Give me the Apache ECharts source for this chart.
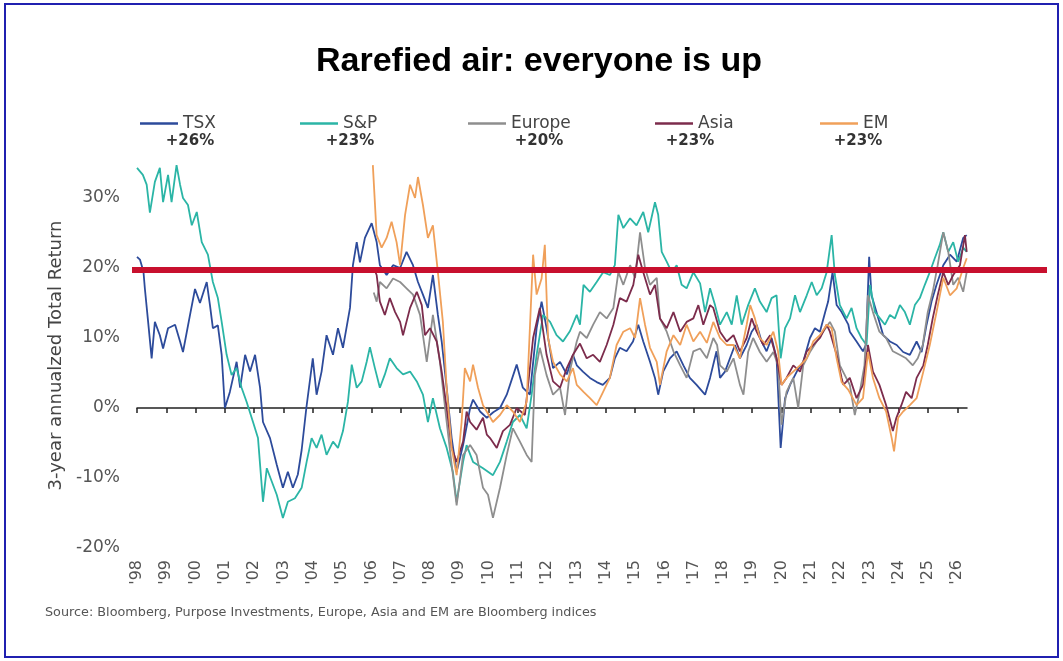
<!DOCTYPE html>
<html>
<head>
<meta charset="utf-8">
<script src="https://cdn.jsdelivr.net/npm/echarts@6/dist/echarts.min.js"></script>
<style>
  html, body { margin: 0; padding: 0; background: #fff; }
  #chart { width: 1063px; height: 661px; }
</style>
</head>
<body>
<div id="chart"></div>
<script>
// tick labels
var tickYears = [1998, 1999, 2000, 2001, 2002, 2003, 2004, 2005, 2006, 2007, 2008, 2009, 2010, 2011,
    2012, 2013, 2014, 2015, 2016, 2017, 2018, 2019, 2020, 2021, 2022, 2023, 2024, 2025, 2026];
var tickLabels = ["'98", "'99", "'00", "'01", "'02", "'03", "'04", "'05", "'06", "'07", "'08", "'09", "'10", "'11",
    "'12", "'13", "'14", "'15", "'16", "'17", "'18", "'19", "'20", "'21", "'22", "'23", "'24", "'25", "'26"];

var seriesNames = ['TSX', 'S&P', 'Europe', 'Asia', 'EM'];
var latestLabels = ['+26%', '+23%', '+20%', '+23%', '+23%'];
var THRESHOLD = 19.7;

// [year, 3y annualized return %]
var tsx = [[1998.00,21.6],[1998.10,21.2],[1998.22,19.5],[1998.27,17],[1998.38,12.3],[1998.50,7.1],[1998.61,12.3],[1998.78,10.4],
    [1998.89,8.5],[1999.06,11.4],[1999.30,11.9],[1999.47,9.5],[1999.57,8],[1999.81,13.3],[1999.98,17],[2000.15,15],[2000.38,18],
    [2000.49,14.7],[2000.59,11.4],[2000.76,11.8],[2000.89,7.6],[2001.00,0],[2001.17,2.3],[2001.40,6.6],[2001.52,2.9],[2001.69,7.6],
    [2001.86,5.2],[2002.03,7.6],[2002.20,2.9],[2002.30,-2],[2002.54,-4.3],[2002.77,-8.1],[2002.98,-11.4],[2003.15,-9.1],[2003.32,-11.4],
    [2003.49,-9.5],[2003.62,-6],[2003.78,0],[2004.00,7.1],[2004.13,1.9],[2004.30,5.2],[2004.47,10.4],[2004.69,7.6],[2004.86,11.4],
    [2005.03,8.6],[2005.27,14.3],[2005.37,20.4],[2005.50,23.7],[2005.61,20.8],[2005.78,24.3],[2006.01,26.4],[2006.18,23.7],[2006.29,20.4],
    [2006.52,19],[2006.74,20.4],[2006.98,20],[2007.20,22.3],[2007.42,20.4],[2007.59,18],[2007.76,16.2],[2007.93,14.3],[2008.10,19],
    [2008.27,13.3],[2008.40,9.5],[2008.57,2.9],[2008.74,-4.3],[2008.91,-9.1],[2009.13,-5.3],[2009.37,0],[2009.47,1.2],[2009.71,-0.5],
    [2009.94,-1.4],[2010.16,-0.6],[2010.39,0],[2010.62,1.9],[2010.96,6.2],[2011.17,2.9],[2011.41,1.9],[2011.64,11.4],[2011.81,15.2],
    [2011.98,11.4],[2012.20,5.7],[2012.44,6.6],[2012.67,4.8],[2012.88,7.6],[2013.01,6.1],[2013.22,5.2],[2013.46,4.3],[2013.69,3.7],
    [2013.90,3.3],[2014.14,4.3],[2014.31,7.1],[2014.48,8.6],[2014.71,8.1],[2014.93,9.5],[2015.11,11.9],[2015.28,9.5],[2015.51,6.6],
    [2015.68,4.3],[2015.79,1.9],[2015.96,5.2],[2016.19,7.1],[2016.42,8.1],[2016.65,6.1],[2016.87,4.3],[2017.10,3.3],[2017.39,1.9],
    [2017.56,4.3],[2017.78,8.1],[2017.90,4.3],[2018.07,5.2],[2018.24,7.1],[2018.41,9],[2018.58,7.1],[2018.81,9],[2018.98,10.9],
    [2019.15,11.9],[2019.32,9.5],[2019.49,8.1],[2019.66,10],[2019.83,7.1],[2019.97,-5.7],[2020.12,1.4],[2020.29,3.3],[2020.52,5.2],
    [2020.74,6.6],[2020.97,10],[2021.14,11.4],[2021.31,10.9],[2021.49,13.7],[2021.59,15.2],[2021.74,19.4],[2021.88,14.7],[2022.05,13.7],
    [2022.28,11.9],[2022.33,10.9],[2022.56,9.5],[2022.78,8.1],[2022.88,9],[2022.99,21.6],[2023.07,16.1],[2023.24,13.7],[2023.47,10.4],
    [2023.70,9.5],[2023.93,9],[2024.15,8],[2024.38,7.6],[2024.61,9.5],[2024.78,8],[2024.95,11.9],[2025.12,15.2],[2025.29,17.6],
    [2025.52,20.4],[2025.75,21.9],[2025.98,20.9],[2026.20,24.3],[2026.32,24.7]];

var sp = [[1998.00,34.3],[1998.20,33.3],[1998.33,31.9],[1998.44,27.9],[1998.61,32.3],[1998.78,34.3],[1998.89,29.4],[1999.06,33.3],
    [1999.18,29.4],[1999.35,34.7],[1999.47,31.9],[1999.57,30],[1999.74,29],[1999.87,26.1],[2000.04,28],[2000.21,23.7],[2000.42,21.9],
    [2000.59,18],[2000.76,15.7],[2000.89,12.3],[2001.06,7.6],[2001.23,4.7],[2001.40,5.7],[2001.57,2.9],[2001.74,0.9],[2001.96,-2],
    [2002.13,-4.3],[2002.30,-13.4],[2002.43,-8.6],[2002.60,-10.5],[2002.77,-12.4],[2002.98,-15.7],[2003.15,-13.4],[2003.39,-12.9],
    [2003.62,-11.4],[2003.79,-7.7],[2003.96,-4.3],[2004.13,-5.7],[2004.30,-3.8],[2004.47,-6.7],[2004.69,-4.8],[2004.86,-5.7],
    [2005.03,-3.3],[2005.20,0.9],[2005.33,6.2],[2005.50,2.9],[2005.67,3.8],[2005.84,6.6],[2005.95,8.7],[2006.12,5.7],[2006.29,2.9],
    [2006.46,4.8],[2006.63,7.1],[2006.86,5.7],[2007.08,4.8],[2007.32,5.2],[2007.55,3.8],[2007.76,1.9],[2007.93,-2],[2008.10,1.4],
    [2008.34,-2.9],[2008.57,-5.7],[2008.78,-9.1],[2008.91,-13.4],[2009.13,-7.7],[2009.25,-5.3],[2009.47,-7.7],[2009.81,-8.6],
    [2010.15,-9.6],[2010.39,-7.7],[2010.62,-4.8],[2010.83,-2],[2011.07,-1],[2011.30,-2.9],[2011.47,1.9],[2011.64,7.6],[2011.86,13.3],
    [2012.10,12.3],[2012.32,10.4],[2012.54,9.5],[2012.78,11],[2013.01,13.3],[2013.12,11.9],[2013.24,17.6],[2013.46,16.6],[2013.69,18],
    [2013.91,19.4],[2014.14,19],[2014.31,20.4],[2014.43,27.6],[2014.60,25.7],[2014.83,27.1],[2015.05,26.1],[2015.28,28],[2015.45,25.1],
    [2015.68,29.4],[2015.79,27.6],[2015.91,22.3],[2016.08,20.9],[2016.25,19.4],[2016.42,20.4],[2016.59,17.6],[2016.76,17.1],
    [2016.99,19.4],[2017.22,17.8],[2017.39,13.7],[2017.56,17.1],[2017.73,14.7],[2017.90,11.9],[2018.13,13.7],[2018.30,11.9],
    [2018.47,16.1],[2018.64,11.9],[2018.86,14.7],[2019.09,17.1],[2019.26,15.2],[2019.49,13.7],[2019.66,15.7],[2019.83,16.1],
    [2019.97,7.1],[2020.12,11.4],[2020.29,12.8],[2020.46,16.1],[2020.63,13.7],[2020.86,16.1],[2021.03,18],[2021.20,16.1],
    [2021.37,17.1],[2021.54,19.4],[2021.71,24.7],[2021.82,19],[2021.99,14.7],[2022.22,12.8],[2022.39,14.3],[2022.56,11.4],
    [2022.73,10],[2022.90,9],[2023.02,17.6],[2023.19,13.7],[2023.36,12.8],[2023.53,11.9],[2023.70,13.3],[2023.87,12.8],[2024.04,14.7],
    [2024.21,13.7],[2024.38,11.9],[2024.55,14.7],[2024.72,15.7],[2024.89,17.6],[2025.06,19.4],[2025.23,21.4],[2025.40,23.3],
    [2025.52,25.1],[2025.69,22.3],[2025.86,23.7],[2026.03,20.9],[2026.20,22.9],[2026.32,22.3]];

var europe = [[2006.08,16.5],[2006.18,15.2],[2006.29,18],[2006.52,17.1],[2006.74,18.5],[2006.98,18],[2007.20,17.1],[2007.42,16.2],
    [2007.66,13.3],[2007.89,6.6],[2008.10,13.3],[2008.34,6.6],[2008.57,-2],[2008.74,-8.1],[2008.91,-13.9],[2009.13,-6.7],[2009.37,-5.3],
    [2009.59,-6.7],[2009.81,-11.4],[2009.98,-12.4],[2010.15,-15.7],[2010.39,-11.4],[2010.62,-6.7],[2010.83,-2.9],[2011.07,-4.8],
    [2011.30,-6.7],[2011.47,-7.7],[2011.58,4.7],[2011.75,8.6],[2011.98,4.7],[2012.20,1.9],[2012.44,2.9],[2012.61,-1],[2012.78,5.4],
    [2013.01,9.5],[2013.12,10.9],[2013.35,10],[2013.57,11.9],[2013.80,13.7],[2014.03,12.8],[2014.26,14.3],[2014.43,19.4],[2014.60,17.6],
    [2014.83,20.4],[2015.00,18.6],[2015.17,25.1],[2015.34,20],[2015.51,17.6],[2015.74,18.6],[2015.85,12.8],[2016.08,10.9],[2016.31,8.1],
    [2016.54,6.1],[2016.76,4.3],[2016.99,8.1],[2017.22,8.5],[2017.45,7.1],[2017.67,10],[2017.80,9],[2017.90,6.1],[2018.13,5.2],
    [2018.36,7.1],[2018.58,3.3],[2018.70,1.9],[2018.86,8],[2019.03,10],[2019.26,8],[2019.49,6.6],[2019.72,8],[2019.88,6.1],
    [2020.00,-2.4],[2020.17,2.3],[2020.40,4.3],[2020.57,0],[2020.74,6.1],[2020.97,8],[2021.20,9.5],[2021.42,10.9],[2021.65,12.3],
    [2021.82,10.9],[2021.99,6.1],[2022.22,4.2],[2022.33,3.3],[2022.50,-1],[2022.67,2.3],[2022.83,6.1],[2022.95,16.1],[2023.12,13.7],
    [2023.34,10.9],[2023.57,10],[2023.80,8.1],[2024.03,7.6],[2024.25,7.1],[2024.48,6.1],[2024.65,7.1],[2024.82,9],[2024.99,13.7],
    [2025.16,16.6],[2025.33,20.4],[2025.52,25.1],[2025.69,22.3],[2025.86,17.6],[2026.03,18.6],[2026.20,16.6],[2026.32,19.4]];

var asia = [[2006.08,20],[2006.18,19],[2006.29,15.2],[2006.46,13.3],[2006.63,15.7],[2006.81,13.7],[2006.98,12.3],[2007.08,10.4],
    [2007.32,14.3],[2007.55,16.6],[2007.72,14.7],[2007.83,10.4],[2008.00,11.4],[2008.23,9.5],[2008.40,5.2],[2008.57,0],[2008.74,-5.7],
    [2008.91,-7.7],[2009.13,-4.8],[2009.25,-0.5],[2009.37,-2],[2009.59,-3.1],[2009.81,-1.4],[2009.94,-3.8],[2010.05,-4.3],
    [2010.28,-5.7],[2010.49,-3.3],[2010.73,-2.4],[2010.96,0],[2011.24,-1],[2011.52,10],[2011.75,14.3],[2011.98,7.6],[2012.20,3.8],
    [2012.44,2.9],[2012.67,5.7],[2012.88,7.6],[2013.12,9.2],[2013.35,7.1],[2013.57,7.6],[2013.80,6.6],[2014.03,9],[2014.26,11.9],
    [2014.48,15.7],[2014.71,15.2],[2014.94,17.6],[2015.11,21.9],[2015.28,19.4],[2015.51,16.2],[2015.68,17.6],[2015.85,12.8],
    [2016.08,11.4],[2016.31,13.7],[2016.54,10.9],[2016.76,12.3],[2016.99,12.8],[2017.16,14.7],[2017.33,11.9],[2017.56,14.7],
    [2017.67,14.3],[2017.90,10.9],[2018.13,9.5],[2018.36,10.4],[2018.58,8.1],[2018.81,10],[2018.98,12.8],[2019.15,10.9],[2019.38,9],
    [2019.61,10.4],[2019.83,7.1],[2020.00,3.3],[2020.17,4.3],[2020.40,6.1],[2020.63,5.2],[2020.86,8.1],[2021.08,9],[2021.31,10],
    [2021.54,11.9],[2021.65,10.9],[2021.88,7.6],[2022.05,4.3],[2022.11,3.3],[2022.33,4.3],[2022.56,1.4],[2022.78,3.3],[2022.95,9],
    [2023.12,5.2],[2023.34,3.3],[2023.57,0.4],[2023.80,-3.3],[2023.92,-1.4],[2024.09,0.4],[2024.25,2.3],[2024.44,1.4],[2024.61,4.3],
    [2024.84,6.1],[2024.99,9],[2025.16,12.8],[2025.33,16.1],[2025.52,19.4],[2025.69,17.6],[2025.86,19],[2026.09,20.4],[2026.26,24.7],
    [2026.32,22.3]];

var em = [[2006.05,34.7],[2006.18,24.7],[2006.35,22.9],[2006.52,24.3],[2006.69,26.6],[2006.86,23.7],[2006.98,20.4],[2007.15,27.6],
    [2007.32,31.9],[2007.49,30],[2007.59,33],[2007.76,29],[2007.93,24.3],[2008.10,26.1],[2008.27,19.4],[2008.44,12.3],[2008.57,2.9],
    [2008.74,-5.7],[2008.91,-9.6],[2009.08,-2],[2009.19,5.7],[2009.37,3.8],[2009.47,6.2],[2009.64,2.9],[2009.81,0.4],[2010.15,-2],
    [2010.39,-1],[2010.62,0.4],[2010.83,-0.5],[2011.07,-2],[2011.30,0.9],[2011.52,21.9],[2011.64,16.2],[2011.81,18.5],[2011.92,23.3],
    [2012.03,10],[2012.20,6.6],[2012.44,4.8],[2012.67,3.8],[2012.88,5.7],[2013.01,3.3],[2013.24,2.3],[2013.46,1.4],[2013.69,0.4],
    [2013.91,2.3],[2014.14,4.3],[2014.37,9],[2014.60,10.9],[2014.83,11.4],[2015.00,10],[2015.17,15.7],[2015.34,11.9],[2015.51,8.6],
    [2015.74,6.6],[2015.85,3.3],[2016.08,8.1],[2016.31,10.4],[2016.54,9],[2016.76,11.9],[2016.99,9.5],[2017.22,10.9],[2017.45,9.3],
    [2017.67,12.3],[2017.90,10],[2018.13,9],[2018.36,9],[2018.58,7.1],[2018.81,11.9],[2018.93,14.7],[2019.09,12.8],[2019.26,10],
    [2019.49,9],[2019.72,10.9],[2019.88,8.1],[2020.00,3.3],[2020.17,4.3],[2020.40,5.2],[2020.63,6.1],[2020.86,7.1],[2021.08,9.5],
    [2021.31,10.4],[2021.54,11.9],[2021.71,11.4],[2021.88,7.1],[2022.05,3.7],[2022.28,2.6],[2022.56,0.4],[2022.78,1.4],[2022.95,8],
    [2023.12,4.3],[2023.34,1.4],[2023.57,-0.5],[2023.76,-4.3],[2023.84,-6.2],[2023.98,-1.4],[2024.15,-0.5],[2024.38,0.4],[2024.61,1.4],
    [2024.84,5.2],[2025.06,9],[2025.29,13.7],[2025.52,18.6],[2025.75,16.1],[2025.98,17.1],[2026.20,20],[2026.32,21.4]];

var colors = ['#2d4b9b', '#2bb5a6', '#8e8e8e', '#7c2c4c', '#f0a05a'];
var seriesData = [tsx, sp, europe, asia, em];
var legendLeft = [135, 295, 463, 650, 815];
var valueCenter = [190, 350, 539, 690, 858];

var bodyFont = 'DejaVu Sans';
var chart = echarts.init(document.getElementById('chart'));

var legends = seriesNames.map(function (name, i) {
    return {
        data: [name],
        left: legendLeft[i],
        top: 110,
        icon: 'rect',
        itemWidth: 38,
        itemHeight: 2.5,
        selectedMode: false,
        textStyle: { fontFamily: bodyFont, fontSize: 17, color: '#444' }
    };
});

// draw order: teal at the back, orange on top
var drawOrder = [1, 0, 2, 3, 4];
var series = drawOrder.map(function (i) {
    return {
        name: seriesNames[i],
        type: 'line',
        data: seriesData[i],
        showSymbol: false,
        symbol: 'none',
        lineStyle: { width: 1.8, color: colors[i] },
        itemStyle: { color: colors[i] },
        z: 3 + i
    };
});

var graphics = [
    { type: 'rect', shape: { x: 5, y: 4, width: 1053, height: 653 },
      style: { fill: null, stroke: '#2020b0', lineWidth: 2 }, z: 100 },
    { type: 'text', left: 45, top: 606,
      style: { text: 'Source: Bloomberg, Purpose Investments, Europe, Asia and EM are Bloomberg indices',
               fontFamily: bodyFont, fontSize: 12.8, fill: '#555' } }
];
latestLabels.forEach(function (t, i) {
    graphics.push({ type: 'text', x: valueCenter[i], y: 141,
        style: { text: t, fontFamily: bodyFont, fontSize: 15, fontWeight: 'bold', fill: '#333',
                 align: 'center', verticalAlign: 'middle' } });
});

var option = {
    animation: false,
    backgroundColor: '#fff',
    title: {
        text: 'Rarefied air: everyone is up',
        left: 311,
        top: 40,
        textStyle: { fontFamily: 'Liberation Sans', fontSize: 34, fontWeight: 'bold', color: '#000' }
    },
    legend: legends,
    grid: { left: 137, right: 96, top: 163, bottom: 113 },
    xAxis: [
        {
            type: 'value',
            min: 1998,
            max: 2026.33,
            interval: 1,
            axisLine: { show: false, onZero: false },
            axisTick: { show: false },
            splitLine: { show: false },
            axisLabel: {
                customValues: tickYears,
                rotate: 90,
                margin: 12,
                fontFamily: bodyFont,
                fontSize: 16,
                color: '#555',
                formatter: function (v) {
                    var k = tickYears.indexOf(Math.round(v));
                    return (Math.abs(v - Math.round(v)) < 1e-6 && k >= 0) ? tickLabels[k] : '';
                }
            }
        },
        {
            type: 'value',
            position: 'top',
            min: 1998,
            max: 2026.33,
            interval: 1,
            axisLine: { show: true, onZero: true, onZeroAxisIndex: 0, lineStyle: { color: '#222', width: 1.5 } },
            axisTick: { show: true, inside: true, length: 5, customValues: tickYears, lineStyle: { color: '#222', width: 1.5 } },
            axisLabel: { show: false },
            splitLine: { show: false }
        }
    ],
    yAxis: {
        type: 'value',
        min: -20,
        max: 35,
        interval: 10,
        name: '3-year annualzed Total Return',
        nameLocation: 'middle',
        nameGap: 60,
        nameTextStyle: { fontFamily: bodyFont, fontSize: 18, color: '#444' },
        axisLine: { show: false },
        axisTick: { show: false },
        splitLine: { show: false },
        axisLabel: {
            margin: 17,
            fontFamily: bodyFont,
            fontSize: 17,
            color: '#555',
            formatter: function (v) { return v % 10 === 0 ? v + '%' : ''; }
        }
    },
    graphic: graphics,
    series: series
};
chart.setOption(option);

// thick red reference line, placed through the chart's own scales
var yRef = chart.convertToPixel({ yAxisIndex: 0 }, THRESHOLD);
var xStart = chart.convertToPixel({ xAxisIndex: 0 }, 1998);
graphics.push({ type: 'line', shape: { x1: xStart - 5, y1: yRef, x2: 1047, y2: yRef },
    style: { stroke: '#c8102e', lineWidth: 6 }, z: 50 });
chart.setOption({ graphic: graphics });
</script>
</body>
</html>
